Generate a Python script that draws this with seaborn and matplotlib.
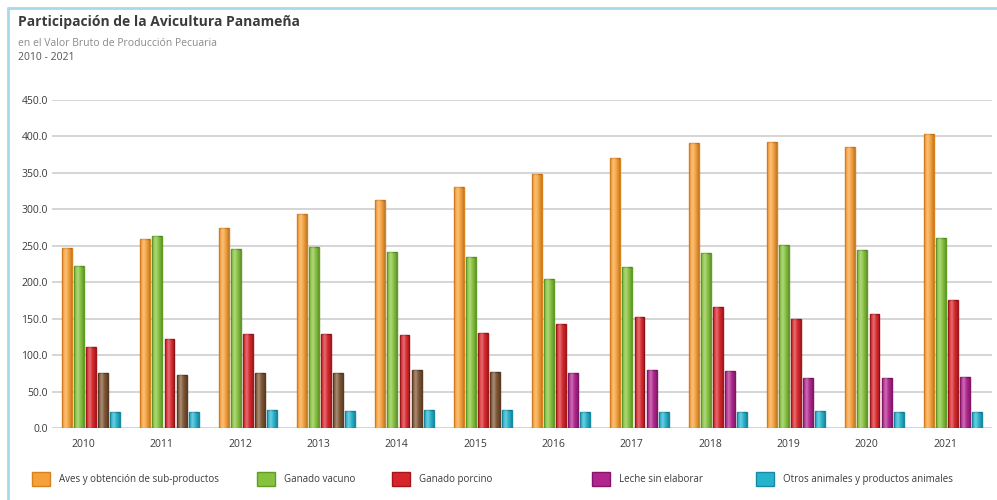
import numpy as np
import pandas as pd
import matplotlib
matplotlib.use("Agg")
import matplotlib.pyplot as plt
import seaborn as sns
from matplotlib.lines import Line2D
from matplotlib.patches import Patch

# Valor bruto de producción pecuaria por rubro (millones de balboas)
years = [2010, 2011, 2012, 2013, 2014, 2015, 2016, 2017, 2018, 2019, 2020, 2021]
aves = [247, 259, 274, 294, 313, 330, 349, 371, 391, 393, 385, 404]
vacuno = [222, 263, 245, 248, 242, 234, 204, 221, 240, 251, 244, 261]
porcino = [111, 122, 129, 129, 128, 131, 142, 152, 166, 150, 156, 176]
leche = [75, 73, 76, 75, 79, 77, 75, 80, 78, 68, 69, 70]
otros = [21.5, 22.5, 25, 24, 25, 25, 22.5, 22.5, 22.5, 24, 22.5, 22.5]

series = [
    "Aves y obtención de sub-productos",
    "Ganado vacuno",
    "Ganado porcino",
    "Leche sin elaborar",
    "Otros animales y productos animales",
]
values = [aves, vacuno, porcino, leche, otros]

df = pd.DataFrame({
    "Año": years * len(series),
    "Serie": [s for s in series for _ in years],
    "Valor": [v for vals in values for v in vals],
})

face = ["#F6A03A", "#86C23E", "#D6262B", "#B0268E", "#27B3CD"]
edge = ["#D9801F", "#5E9E27", "#A3171B", "#84166A", "#168AA2"]
brown_face, brown_edge = "#7D5534", "#5A3A20"

sns.set_theme(style="white")
plt.rcParams["font.family"] = ["Open Sans", "DejaVu Sans"]

fig = plt.figure(figsize=(9.97, 5.0), dpi=100)
ax = fig.add_axes([52 / 997, 1 - 428 / 500, 940 / 997, 328 / 500])

sns.barplot(data=df, x="Año", y="Valor", hue="Serie", hue_order=series,
            palette=dict(zip(series, face)), saturation=1, width=0.77,
            gap=0.18, legend=False, ax=ax)

# Sombreado cilíndrico: borde oscuro, brillo a un tercio del ancho
u = np.linspace(0, 1, 48)
light = np.clip(1 - np.abs(u - 0.38) / 0.38, 0, 1) ** 1.5 * 0.35
dark = np.clip((np.abs(u - 0.38) - 0.25) / 0.4, 0, 1) * 0.22
shade = np.zeros((1, u.size, 4))
shade[..., :3] = (light > dark)[None, :, None] * 1.0
shade[..., 3] = np.maximum(light, dark)


def add_shading(patch):
    x0, y0 = patch.get_x(), patch.get_y()
    w, h = patch.get_width(), patch.get_height()
    im = ax.imshow(shade, extent=[x0, x0 + w, y0, y0 + h], aspect="auto",
                   interpolation="bilinear", zorder=patch.get_zorder() + 0.05)
    im.set_clip_path(patch)


for i, cont in enumerate(ax.containers):
    for bar, yr in zip(cont, years):
        bar.set_edgecolor(edge[i])
        bar.set_linewidth(1.0)
        if i == 3 and yr <= 2015:
            bar.set_facecolor(brown_face)
            bar.set_edgecolor(brown_edge)
        add_shading(bar)

ax.set_xlim(-0.5, 11.5)
ax.set_ylim(0, 450)
ax.set_yticks(np.arange(0, 451, 50))
ax.set_yticklabels([f"{v:.1f}" for v in np.arange(0, 451, 50)])
ax.set_xticks(np.arange(len(years)) - 0.1)
ax.set_xticklabels([str(y) for y in years])
ax.set_xlabel("")
ax.set_ylabel("")
ax.yaxis.grid(True, color="#d2d2d2", linewidth=1.3)
ax.set_axisbelow(True)
for s in ax.spines.values():
    s.set_visible(False)
ax.tick_params(axis="y", length=0, pad=3, labelsize=7.5, labelcolor="#3a3a3a")
ax.tick_params(axis="x", length=0, pad=8, labelsize=7.5, labelcolor="#3a3a3a")

# Títulos
fig.text(18 / 997, 1 - 22 / 500, "Participación de la Avicultura Panameña",
         fontsize=10, fontweight="bold", color="#3b3b3b", va="center", ha="left")
fig.text(18 / 997, 1 - 43 / 500, "en el Valor Bruto de Producción Pecuaria",
         fontsize=7.5, color="#8a8a8a", va="center", ha="left")
fig.text(18 / 997, 1 - 58 / 500, "2010 - 2021",
         fontsize=7.5, color="#555555", va="center", ha="left")

# Leyenda
legend_x = [32, 257, 392, 592, 756]
for i, name in enumerate(series):
    h = Patch(facecolor=face[i], edgecolor=edge[i], linewidth=1.0)
    lg = fig.legend([h], [name], loc="center left",
                    bbox_to_anchor=(legend_x[i] / 997, 1 - 479 / 500),
                    frameon=False, borderpad=0, borderaxespad=0,
                    handlelength=1.85, handleheight=1.85, handletextpad=0.95,
                    prop={"size": 7})
    for t in lg.get_texts():
        t.set_color("#3a3a3a")

# Marco
frame = "#A6DAE8"
fig.add_artist(Line2D([8 / 997, 8 / 997], [0, 1 - 8 / 500], color=frame, lw=2,
                      transform=fig.transFigure))
fig.add_artist(Line2D([8 / 997, 1], [1 - 8 / 500, 1 - 8 / 500], color=frame, lw=2,
                      transform=fig.transFigure))

fig.savefig("out.png", dpi=100, facecolor="white")
